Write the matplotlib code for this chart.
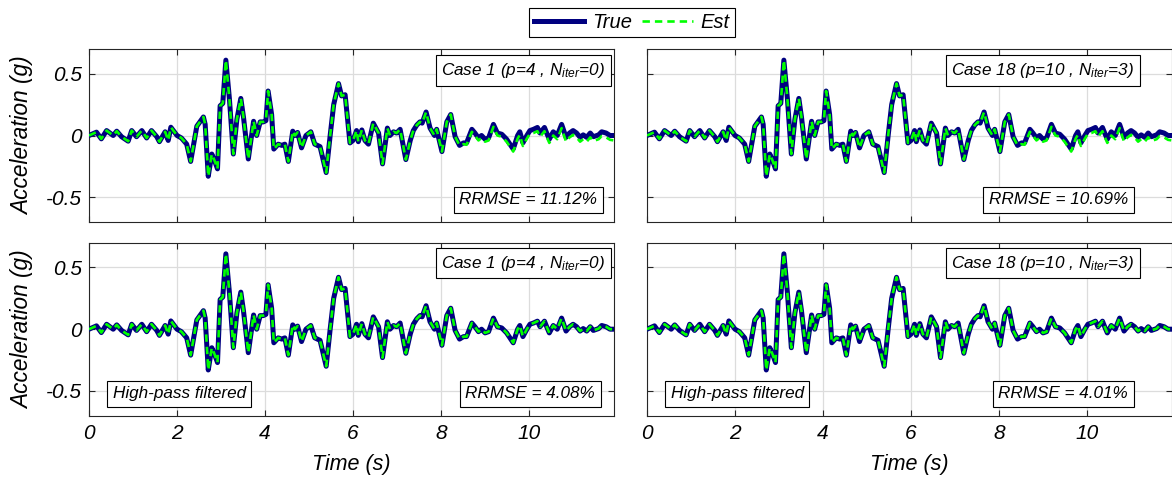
import matplotlib
matplotlib.use('Agg')
import matplotlib.pyplot as plt
from matplotlib.lines import Line2D

plt.rcParams['font.family'] = ['Liberation Sans', 'DejaVu Sans']
plt.rcParams['font.style'] = 'italic'
plt.rcParams['mathtext.fontset'] = 'custom'
plt.rcParams['mathtext.it'] = 'Liberation Sans:italic'
plt.rcParams['mathtext.rm'] = 'Liberation Sans:italic'
plt.rcParams['axes.unicode_minus'] = False

# acceleration record at the turning points (s, g)
time_s = [0.00, 0.17, 0.28, 0.40, 0.55, 0.63, 0.74, 0.89, 0.97, 1.08,
          1.20, 1.31, 1.42, 1.54, 1.60, 1.73, 1.80, 1.86, 2.00, 2.10,
          2.22, 2.31, 2.45, 2.52, 2.60, 2.64, 2.71, 2.79, 2.85, 2.92,
          2.98, 3.04, 3.11, 3.19, 3.28, 3.36, 3.45, 3.51, 3.62, 3.74,
          3.81, 3.89, 3.96, 4.02, 4.07, 4.15, 4.20, 4.30, 4.38, 4.45,
          4.53, 4.63, 4.68, 4.74, 4.83, 4.93, 5.04, 5.13, 5.25, 5.39,
          5.48, 5.56, 5.67, 5.74, 5.82, 5.93, 6.00, 6.08, 6.12, 6.20,
          6.27, 6.35, 6.46, 6.58, 6.67, 6.78, 6.84, 6.92, 6.99, 7.07,
          7.20, 7.30, 7.37, 7.45, 7.52, 7.57, 7.66, 7.75, 7.85, 7.90,
          8.02, 8.13, 8.22, 8.32, 8.42, 8.51, 8.58, 8.70, 8.77, 8.85,
          8.92, 9.00, 9.08, 9.19, 9.28, 9.38, 9.49, 9.64, 9.74, 9.79,
          9.86, 9.95, 10.02, 10.10, 10.19, 10.25, 10.35, 10.40, 10.46, 10.55,
          10.64, 10.74, 10.84, 10.92, 11.00, 11.08, 11.16, 11.23, 11.31, 11.39,
          11.46, 11.58, 11.65, 11.75, 11.84, 11.93]

acc_true = [0.000, 0.027, -0.027, 0.040, 0.000, 0.035, -0.010, -0.046, 0.040, -0.010,
            0.040, -0.020, 0.040, -0.010, -0.050, 0.030, -0.040, 0.067, 0.000, -0.020,
            -0.070, -0.210, 0.075, 0.110, 0.150, 0.090, -0.330, -0.150, -0.200, -0.270,
            0.240, 0.260, 0.610, 0.300, -0.150, 0.130, 0.300, 0.150, -0.190, 0.115,
            0.000, 0.110, 0.110, 0.120, 0.360, 0.170, -0.110, -0.070, -0.080, -0.070,
            -0.210, 0.035, 0.000, 0.025, -0.100, 0.000, 0.030, -0.070, -0.090, -0.300,
            0.000, 0.250, 0.420, 0.320, 0.330, -0.060, -0.040, 0.040, -0.050, 0.045,
            -0.040, -0.070, 0.100, 0.020, -0.230, 0.060, 0.000, 0.030, 0.020, 0.050,
            -0.195, -0.040, 0.040, 0.085, 0.110, 0.100, 0.190, 0.060, 0.000, 0.050,
            -0.130, 0.110, 0.170, -0.010, -0.080, -0.060, -0.060, 0.050, 0.020, -0.020,
            0.000, -0.030, -0.020, 0.090, 0.020, 0.010, -0.030, -0.110, 0.000, 0.030,
            -0.060, 0.000, 0.040, 0.050, 0.065, 0.020, 0.065, 0.020, -0.030, 0.030,
            0.000, 0.090, -0.015, 0.020, 0.040, 0.020, -0.015, 0.005, -0.015, 0.020,
            -0.010, 0.005, 0.030, 0.020, 0.000, 0.000]

# estimate without filtering drifts a little low after ~8.5 s
acc_est_raw = [0.000, 0.027, -0.027, 0.040, 0.000, 0.035, -0.010, -0.046, 0.040, -0.010,
               0.040, -0.020, 0.040, -0.010, -0.050, 0.030, -0.040, 0.067, 0.000, -0.020,
               -0.070, -0.210, 0.075, 0.110, 0.150, 0.090, -0.330, -0.150, -0.200, -0.270,
               0.240, 0.260, 0.610, 0.300, -0.150, 0.130, 0.300, 0.150, -0.190, 0.115,
               0.000, 0.110, 0.110, 0.120, 0.360, 0.170, -0.110, -0.070, -0.080, -0.070,
               -0.210, 0.035, 0.000, 0.025, -0.100, 0.000, 0.030, -0.070, -0.090, -0.300,
               0.000, 0.250, 0.420, 0.320, 0.330, -0.060, -0.040, 0.040, -0.050, 0.045,
               -0.040, -0.070, 0.100, 0.020, -0.230, 0.060, 0.000, 0.030, 0.020, 0.050,
               -0.195, -0.040, 0.040, 0.085, 0.110, 0.100, 0.190, 0.060, 0.000, 0.050,
               -0.130, 0.110, 0.170, -0.010, -0.080, -0.070, -0.075, 0.030, 0.000, -0.040,
               -0.020, -0.050, -0.040, 0.070, 0.000, -0.010, -0.050, -0.130, -0.025, 0.005,
               -0.085, -0.025, 0.015, 0.020, 0.035, -0.010, 0.035, -0.010, -0.060, 0.000,
               -0.030, 0.060, -0.050, -0.015, 0.005, -0.015, -0.050, -0.030, -0.050, -0.015,
               -0.045, -0.030, -0.005, -0.015, -0.035, -0.040]

acc_est_hp = list(acc_true)

case_labels = [r'Case 1 (p=4 , N$_{iter}$=0)', r'Case 18 (p=10 , N$_{iter}$=3)']
rrmse_labels = [['RRMSE = 11.12%', 'RRMSE = 10.69%'],
                ['RRMSE = 4.08%', 'RRMSE = 4.01%']]
x_ticks = [0, 2, 4, 6, 8, 10]
y_ticks = [-0.5, 0, 0.5]
y_tick_labels = ['-0.5', '0', '0.5']

true_color = '#000080'
est_color = '#00FF00'
spine_color = '#262626'

fig = plt.figure(figsize=(11.72, 4.78), dpi=100)

W, H = 1172.0, 478.0
lefts = [89, 647]
tops = [49, 242.7]
ax_w, ax_h = 525, 173

# text box positions (axes coords), per column
case_x = [0.983, 0.928]
rr_x = [[0.968, 0.916], [0.964, 0.916]]

box = dict(boxstyle='square,pad=0.33', fc='white', ec='black', lw=0.8)
box_fs = 12.3

for r in range(2):
    for c in range(2):
        ax = fig.add_axes([lefts[c] / W, 1 - (tops[r] + ax_h) / H, ax_w / W, ax_h / H])
        est = acc_est_raw if r == 0 else acc_est_hp
        ax.plot(time_s, acc_true, color=true_color, lw=3.6,
                solid_joinstyle='round', solid_capstyle='round', zorder=3)
        ax.plot(time_s, est, color=est_color, lw=1.9, dashes=(2.8, 1.9),
                dash_joinstyle='round', zorder=4)
        ax.set_xlim(0, 11.93)
        ax.set_ylim(-0.7, 0.7)
        ax.set_xticks(x_ticks)
        ax.set_yticks(y_ticks)
        ax.grid(True, color='#DCDCDC', lw=0.9)
        ax.set_axisbelow(True)
        ax.tick_params(direction='in', top=True, right=True, length=4,
                       width=0.8, color=spine_color, labelsize=15)
        ax.tick_params(axis='x', pad=6)
        ax.tick_params(axis='y', pad=5)
        for s in ax.spines.values():
            s.set_color(spine_color)
            s.set_linewidth(0.8)

        if c == 0:
            ax.set_yticklabels(y_tick_labels)
            ax.set_ylabel('Acceleration (g)', fontsize=16.3)
            ax.yaxis.set_label_coords(-0.105, 0.5)
        else:
            ax.set_yticklabels([])
        if r == 1:
            ax.set_xticklabels([str(v) for v in x_ticks])
            ax.set_xlabel('Time (s)', fontsize=15.5, labelpad=8)
        else:
            ax.set_xticklabels([])

        ax.text(case_x[c], 0.93 if r == 0 else 0.937, case_labels[c],
                transform=ax.transAxes, ha='right', va='top', fontsize=box_fs,
                bbox=box, zorder=6)
        ax.text(rr_x[r][c], 0.084, rrmse_labels[r][c],
                transform=ax.transAxes, ha='right', va='bottom', fontsize=box_fs,
                bbox=box, zorder=6)
        if r == 1:
            ax.text(0.045, 0.083, 'High-pass filtered', transform=ax.transAxes,
                    ha='left', va='bottom', fontsize=box_fs, bbox=box, zorder=6)

handles = [Line2D([], [], color=true_color, lw=3.6),
           Line2D([], [], color=est_color, lw=1.9, dashes=(2.8, 1.9))]
leg = fig.legend(handles, ['True', 'Est'], loc='center', bbox_to_anchor=(0.539, 0.952),
                 ncol=2, frameon=True, fancybox=False, edgecolor='black', framealpha=1,
                 fontsize=14.5, handlelength=2.5, columnspacing=0.5, handletextpad=0.4,
                 borderpad=0.25)
leg.get_frame().set_linewidth(0.8)

fig.savefig('out.png', dpi=100)
